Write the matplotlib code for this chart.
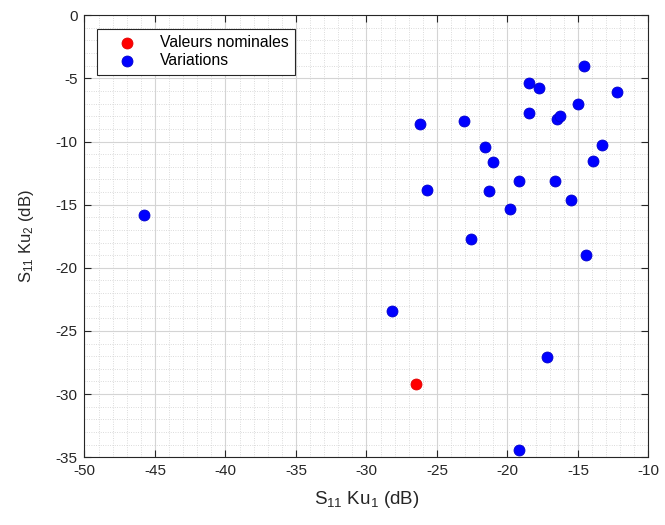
import matplotlib.pyplot as plt
from matplotlib.ticker import MultipleLocator

# valeurs nominales (point rouge)
nominal_x = [-26.5]
nominal_y = [-29.2]

# variations (points bleus)
var_x = [-45.8, -28.2, -26.2, -23.1, -21.6, -18.5, -17.75, -18.5, -16.5, -16.3,
         -15.0, -14.6, -12.2, -13.3, -21.0, -13.9, -19.2, -16.6, -25.7, -21.3,
         -15.5, -19.8, -22.55, -14.45, -17.2, -19.2]
var_y = [-15.8, -23.4, -8.6, -8.4, -10.45, -5.4, -5.75, -7.75, -8.2, -8.0,
         -7.05, -4.05, -6.1, -10.25, -11.65, -11.55, -13.1, -13.1, -13.8, -13.95,
         -14.6, -15.35, -17.75, -19.0, -27.1, -34.45]

labels = ['Valeurs nominales', 'Variations']

plt.rcParams['font.family'] = ['Liberation Sans', 'DejaVu Sans']
plt.rcParams['mathtext.default'] = 'regular'
plt.rcParams['axes.unicode_minus'] = False

fig = plt.figure(figsize=(6.65, 5.25), dpi=100)
ax = fig.add_axes([0.127, 0.129, 0.848, 0.842])

ax.scatter(nominal_x, nominal_y, s=62, c='#ff0000', edgecolors='#e00000',
           linewidths=0.6, label=labels[0], zorder=3)
ax.scatter(var_x, var_y, s=62, c='#0000ff', edgecolors='#0000cc',
           linewidths=0.6, label=labels[1], zorder=3)

ax.set_xlim(-50, -10)
ax.set_ylim(-35, 0)
ax.xaxis.set_major_locator(MultipleLocator(5))
ax.yaxis.set_major_locator(MultipleLocator(5))
ax.xaxis.set_minor_locator(MultipleLocator(1))
ax.yaxis.set_minor_locator(MultipleLocator(1))

ax.grid(which='major', color='#d4d4d4', linewidth=0.8, linestyle='-')
ax.grid(which='minor', color='#cfcfcf', linewidth=0.6, linestyle=(0, (1, 1.8)))
ax.set_axisbelow(True)

ax.tick_params(which='major', direction='in', length=5, width=0.8,
               top=True, right=True, labelsize=11, colors='#262626', pad=5)
ax.tick_params(which='minor', length=0)
for s in ax.spines.values():
    s.set_color('#262626')
    s.set_linewidth(0.8)

ax.set_xlabel(r'S$_{11}$ Ku$_1$ (dB)', fontsize=13.5, color='#262626', labelpad=8)
ax.set_ylabel(r'S$_{11}$ Ku$_2$ (dB)', fontsize=12, color='#262626', labelpad=14)

leg = ax.legend(loc='upper left', bbox_to_anchor=(0.022, 0.969), borderaxespad=0,
                fancybox=False, framealpha=1, edgecolor='#262626', fontsize=11.3,
                handletextpad=0.65, borderpad=0.4, labelspacing=0.2, handlelength=3)
leg.get_frame().set_linewidth(0.8)

fig.savefig('out.png', dpi=100, facecolor='white')
